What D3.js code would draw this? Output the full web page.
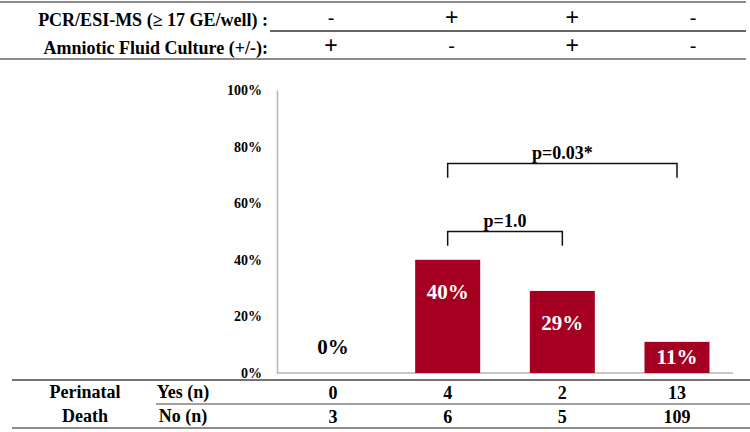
<!DOCTYPE html>
<html>
<head>
<meta charset="utf-8">
<title>Perinatal death by PCR/ESI-MS and amniotic fluid culture</title>
<script src="https://cdn.jsdelivr.net/npm/d3@7"></script>
<style>
  body { margin: 0; background: #fff; }
</style>
</head>
<body>
<svg id="svg"></svg>
<script>
var width = 750, height = 432;
var serif = "'Liberation Serif', 'Times New Roman', Times, 'DejaVu Serif', serif";
var sans = "'Liberation Sans', Arial, sans-serif";

// data
var groups = ["g1", "g2", "g3", "g4"];
var pcrRow = ["-", "+", "+", "-"];
var cultureRow = ["+", "-", "+", "-"];
var deathPct = [0, 40, 29, 11];
var pctLabels = ["0%", "40%", "29%", "11%"];
var yesCounts = [0, 4, 2, 13];
var noCounts = [3, 6, 5, 109];
var yTicks = [0, 20, 40, 60, 80, 100];
var brackets = [
  {from: "g2", to: "g3", y: 50, drop: 5, label: "p=1.0"},
  {from: "g2", to: "g4", y: 74, drop: 5, label: "p=0.03*"}
];

var barColor = "#A50021";

var svg = d3.select("#svg").attr("width", width).attr("height", height)
  .attr("font-family", serif).attr("font-weight", "bold");

// serif bold label helper
function label(x, y, txt, size, anchor) {
  return svg.append("text").attr("x", x).attr("y", y)
    .attr("text-anchor", anchor || "middle")
    .attr("font-family", serif).attr("font-weight", "bold")
    .attr("font-size", size).text(txt);
}

// header table
svg.append("line").attr("x1", 0).attr("x2", 746).attr("y1", 2).attr("y2", 2)
  .attr("stroke", "#8c8c8c").attr("stroke-width", 2);
svg.append("line").attr("x1", 270).attr("x2", 746).attr("y1", 31).attr("y2", 31)
  .attr("stroke", "#333").attr("stroke-width", 1.5);
svg.append("line").attr("x1", 0).attr("x2", 746).attr("y1", 59).attr("y2", 59)
  .attr("stroke", "#8c8c8c").attr("stroke-width", 2);

label(268, 26, "PCR/ESI-MS (\u2265 17 GE/well) :", 18, "end");
label(268, 54, "Amniotic Fluid Culture (+/-):", 18, "end");

var headX = d3.scalePoint().domain(groups).range([331, 693]);

svg.selectAll(".pcr").data(groups).enter().append("text")
  .attr("class", "pcr")
  .attr("x", function(d) { return headX(d); })
  .attr("y", 25)
  .attr("text-anchor", "middle")
  .attr("font-family", sans).attr("font-weight", "normal")
  .attr("font-size", function(d, i) { return pcrRow[i] === "+" ? 23 : 20; })
  .text(function(d, i) { return pcrRow[i]; });

svg.selectAll(".cult").data(groups).enter().append("text")
  .attr("class", "cult")
  .attr("x", function(d) { return headX(d); })
  .attr("y", 53)
  .attr("text-anchor", "middle")
  .attr("font-family", sans).attr("font-weight", "normal")
  .attr("font-size", function(d, i) { return cultureRow[i] === "+" ? 23 : 20; })
  .text(function(d, i) { return cultureRow[i]; });

// chart
var x = d3.scaleBand().domain(groups).range([277, 733])
  .paddingInner(0.433).paddingOuter(0.205);
var y = d3.scaleLinear().domain([0, 100]).range([373, 90]);

var axisY = d3.axisLeft(y).tickValues(yTicks).tickSize(0).tickPadding(15)
  .tickFormat(function(d) { return d + "%"; });
var gy = svg.append("g").attr("transform", "translate(277,0)").call(axisY)
  .attr("font-family", serif).attr("font-size", 14).attr("font-weight", "bold");
gy.select(".domain").attr("stroke", "#b5b5b5").attr("stroke-width", 1.5);
gy.selectAll("text").attr("fill", "#000");

svg.append("line").attr("x1", 277).attr("x2", 733).attr("y1", y(0)).attr("y2", y(0))
  .attr("stroke", "#b5b5b5").attr("stroke-width", 1.5);

svg.selectAll(".bar").data(groups).enter().append("rect")
  .attr("class", "bar")
  .attr("x", function(d) { return x(d); })
  .attr("width", x.bandwidth())
  .attr("y", function(d, i) { return y(deathPct[i]); })
  .attr("height", function(d, i) { return y(0) - y(deathPct[i]); })
  .attr("fill", barColor);

svg.selectAll(".blabel").data(groups).enter().append("text")
  .attr("class", "blabel")
  .attr("x", function(d) { return x(d) + x.bandwidth() / 2; })
  .attr("y", function(d, i) {
    var top = y(deathPct[i]);
    if (deathPct[i] === 0) return y(0) - 19;
    return Math.min(top + 39, (top + y(0)) / 2 + 7);
  })
  .attr("text-anchor", "middle")
  .attr("font-family", serif).attr("font-weight", "bold").attr("font-size", 21)
  .attr("fill", function(d, i) { return deathPct[i] === 0 ? "#000" : "#fff"; })
  .text(function(d, i) { return pctLabels[i]; });

// significance brackets
brackets.forEach(function(b) {
  var x1 = x(b.from) + x.bandwidth() / 2, x2 = x(b.to) + x.bandwidth() / 2;
  var yy = y(b.y), yd = y(b.y - b.drop);
  svg.append("path")
    .attr("d", "M" + x1 + "," + yd + "V" + yy + "H" + x2 + "V" + yd)
    .attr("fill", "none").attr("stroke", "#111").attr("stroke-width", 1.5);
  label((x1 + x2) / 2, yy - 5, b.label, 18);
});

// bottom table
svg.append("line").attr("x1", 12).attr("x2", 750).attr("y1", 380).attr("y2", 380)
  .attr("stroke", "#444").attr("stroke-width", 1.5);
svg.append("line").attr("x1", 156).attr("x2", 750).attr("y1", 404).attr("y2", 404)
  .attr("stroke", "#444").attr("stroke-width", 1.2);
svg.append("line").attr("x1", 12).attr("x2", 750).attr("y1", 428).attr("y2", 428)
  .attr("stroke", "#666").attr("stroke-width", 1.5);

label(85, 398, "Perinatal", 18);
label(85, 422, "Death", 18);
label(183, 398, "Yes (n)", 18);
label(183, 422, "No (n)", 18);

svg.selectAll(".yes").data(groups).enter().append("text")
  .attr("class", "yes")
  .attr("x", function(d) { return x(d) + x.bandwidth() / 2; })
  .attr("y", 399).attr("text-anchor", "middle")
  .attr("font-family", serif).attr("font-weight", "bold").attr("font-size", 18)
  .text(function(d, i) { return yesCounts[i]; });
svg.selectAll(".no").data(groups).enter().append("text")
  .attr("class", "no")
  .attr("x", function(d) { return x(d) + x.bandwidth() / 2; })
  .attr("y", 423).attr("text-anchor", "middle")
  .attr("font-family", serif).attr("font-weight", "bold").attr("font-size", 18)
  .text(function(d, i) { return noCounts[i]; });
</script>
</body>
</html>
